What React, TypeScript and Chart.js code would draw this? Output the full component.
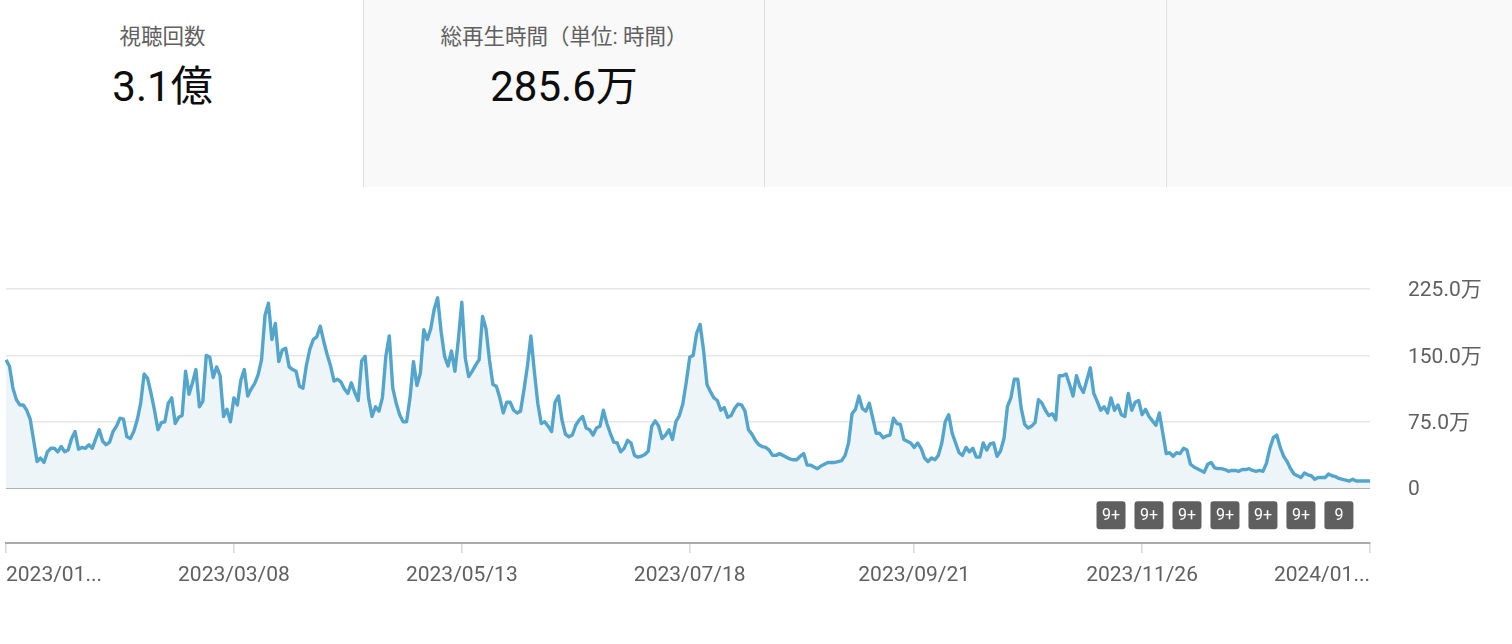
import React, { useEffect, useRef } from "react";
import { Chart, registerables } from "chart.js";

Chart.register(...registerables);

// ---- data (daily views, unit: 万) ----
const startDate = "2023-01-01";

const views: number[] = [
  145, 138, 113, 100, 94, 94, 88, 78, 54, 30,
  34, 29, 41, 45, 45, 41, 47, 41, 43, 56,
  64, 44, 46, 45, 49, 45, 56, 66, 53, 49,
  52, 64, 70, 79, 78, 58, 56, 64, 77, 96,
  129, 124, 107, 88, 66, 74, 75, 96, 102, 73,
  80, 82, 132, 106, 119, 134, 92, 98, 150, 148,
  125, 137, 127, 81, 89, 75, 102, 94, 122, 134,
  104, 112, 118, 128, 145, 195, 209, 168, 186, 143,
  156, 158, 137, 134, 132, 115, 113, 139, 157, 168,
  171, 183, 166, 151, 138, 121, 123, 120, 112, 107,
  119, 108, 99, 144, 149, 102, 81, 92, 87, 102,
  149, 172, 113, 96, 83, 75, 75, 102, 143, 116,
  130, 179, 168, 180, 202, 215, 177, 149, 138, 155,
  132, 168, 210, 147, 126, 132, 139, 145, 194, 180,
  145, 117, 115, 102, 85, 97, 97, 88, 85, 87,
  111, 138, 172, 132, 96, 73, 75, 70, 64, 97,
  104, 77, 61, 58, 60, 71, 77, 81, 68, 66,
  60, 68, 70, 88, 73, 62, 52, 51, 41, 45,
  54, 51, 37, 35, 36, 38, 42, 70, 76, 70,
  56, 60, 66, 55, 75, 82, 95, 120, 148, 150,
  175, 185, 156, 117, 109, 102, 99, 88, 91, 80,
  82, 90, 95, 94, 87, 66, 61, 54, 49, 47,
  46, 43, 37, 37, 39, 37, 35, 33, 32, 32,
  36, 39, 26, 26, 24, 22, 25, 27, 29, 29,
  29, 30, 31, 37, 51, 84, 89, 104, 90, 87,
  96, 79, 62, 62, 57, 59, 60, 79, 73, 72,
  55, 53, 51, 46, 51, 45, 34, 30, 34, 32,
  37, 51, 75, 83, 62, 51, 40, 37, 46, 41,
  45, 35, 35, 51, 43, 50, 51, 36, 42, 56,
  92, 102, 123, 123, 90, 72, 68, 70, 74, 100,
  96, 88, 82, 84, 77, 127, 127, 129, 117, 104,
  127, 115, 108, 122, 136, 107, 98, 88, 92, 85,
  102, 88, 94, 83, 81, 107, 88, 97, 99, 83,
  89, 81, 76, 71, 85, 62, 39, 40, 36, 40,
  39, 45, 43, 27, 24, 22, 20, 18, 27, 29,
  23, 22, 22, 21, 19, 20, 20, 19, 21, 21,
  22, 20, 19, 20, 19, 28, 45, 57, 60, 46,
  36, 30, 22, 16, 14, 12, 17, 15, 14, 10,
  12, 12, 12, 16, 14, 13, 11, 10, 9, 8,
  10, 8, 8, 8, 8, 8,
];

const tickDays = [0, 66, 132, 198, 263, 329, 395];
const tickLabels = [
  "2023/01...",
  "2023/03/08",
  "2023/05/13",
  "2023/07/18",
  "2023/09/21",
  "2023/11/26",
  "2024/01...",
];
const yTicks = [0, 75, 150, 225];

const badgeDays = [320, 331, 342, 353, 364, 375, 386];
const badgeLabels = ["9+", "9+", "9+", "9+", "9+", "9+", "9"];

const cardTitles = ["視聴回数", "総再生時間（単位: 時間）", "", ""];
const cardValues = ["3.1億", "285.6万", "", ""];

// ---- helpers ----
function buildDates(start: string, n: number): string[] {
  const out: string[] = [];
  const base = new Date(start + "T00:00:00Z");
  for (let i = 0; i < n; i++) {
    const d = new Date(base.getTime() + i * 86400000);
    const y = d.getUTCFullYear();
    const m = String(d.getUTCMonth() + 1).padStart(2, "0");
    const dd = String(d.getUTCDate()).padStart(2, "0");
    out.push(`${y}/${m}/${dd}`);
  }
  return out;
}

const dates = buildDates(startDate, views.length);

const FONT = 'Roboto, "Noto Sans CJK JP", sans-serif';
const LINE = "#54a5cb";
const FILL = "#edf5f9";
const TEXT_GREY = "#606060";

const badgePlugin = {
  id: "badges",
  afterDraw(chart: any) {
    const { ctx, scales } = chart;
    const x = scales.x;
    const y = scales.y;
    const y0 = y.getPixelForValue(0);
    ctx.save();
    badgeDays.forEach((d, i) => {
      const cx = x.getPixelForValue(d);
      const w = 29;
      const h = 28;
      const top = y0 + 13;
      ctx.fillStyle = "#5f5f5f";
      ctx.beginPath();
      ctx.roundRect(cx - w / 2, top, w, h, 3);
      ctx.fill();
      ctx.fillStyle = "#ffffff";
      ctx.font = `16px ${FONT}`;
      ctx.textAlign = "center";
      ctx.textBaseline = "middle";
      ctx.fillText(badgeLabels[i], cx, top + h / 2 + 1);
    });
    ctx.restore();
  },
};

function MetricCards() {
  const lefts = [-38, 363, 764, 1166];
  return (
    <>
      {lefts.map((left, i) => (
        <div
          key={i}
          style={{
            position: "absolute",
            left,
            top: 0,
            width: 401,
            height: 187,
            boxSizing: "border-box",
            background: i === 0 ? "#ffffff" : "#f9f9f9",
            borderLeft: i === 0 ? "none" : "1.5px solid #dedede",
            fontFamily: FONT,
            textAlign: "center",
          }}
        >
          {cardTitles[i] ? (
            <div
              style={{
                position: "absolute",
                left: 0,
                right: 0,
                top: 23,
                fontSize: 21.5,
                lineHeight: "28px",
                color: TEXT_GREY,
              }}
            >
              {cardTitles[i]}
            </div>
          ) : null}
          {cardValues[i] ? (
            <div
              style={{
                position: "absolute",
                left: 0,
                right: 0,
                top: 62,
                fontSize: 42,
                lineHeight: "50px",
                color: "#0d0d0d",
              }}
            >
              {cardValues[i]}
            </div>
          ) : null}
        </div>
      ))}
    </>
  );
}

export default function App() {
  const canvasRef = useRef<HTMLCanvasElement | null>(null);

  useEffect(() => {
    const canvas = canvasRef.current;
    if (!canvas) return;
    const chart = new Chart(canvas, {
      type: "line",
      data: {
        labels: dates,
        datasets: [
          {
            data: views,
            borderColor: LINE,
            backgroundColor: FILL,
            fill: "origin",
            borderWidth: 3.4,
            pointRadius: 0,
            tension: 0,
            borderJoinStyle: "round",
          },
        ],
      },
      options: {
        animation: false,
        responsive: false,
        maintainAspectRatio: false,
        layout: { padding: { left: 6, top: 29, right: 0, bottom: 0 } },
        plugins: {
          legend: { display: false },
          tooltip: { enabled: false },
        },
        scales: {
          x: {
            type: "category",
            grid: {
              drawOnChartArea: false,
              drawTicks: true,
              tickLength: 10,
              color: "#d6d6d6",
              tickColor: "#d6d6d6",
              lineWidth: 1.5,
            },
            border: { display: true, color: "#a9a9a9", width: 2 },
            ticks: {
              autoSkip: false,
              maxRotation: 0,
              minRotation: 0,
              align: "inner",
              padding: 10,
              color: TEXT_GREY,
              font: { family: FONT, size: 21 },
              callback: (_v: any, i: number) => tickLabels[i],
            },
            afterBuildTicks: (s: any) => {
              s.ticks = tickDays.map((d) => ({ value: d }));
            },
            afterFit: (s: any) => {
              s.height = 57;
              s.paddingLeft = 0;
              s.paddingRight = 0;
            },
          },
          y: {
            position: "right",
            min: -62,
            max: 225,
            afterBuildTicks: (s: any) => {
              s.ticks = yTicks.map((v) => ({ value: v }));
            },
            grid: {
              drawTicks: false,
              color: (c: any) =>
                c.tick && c.tick.value === 0 ? "#9a9a9a" : "#e6e6e6",
              lineWidth: (c: any) => (c.tick && c.tick.value === 0 ? 2 : 1.5),
            },
            border: { display: false },
            ticks: {
              padding: 38,
              labelOffset: 2,
              color: TEXT_GREY,
              font: { family: FONT, size: 21 },
              callback: (v: any) =>
                Number(v) === 0 ? "0" : Number(v).toFixed(1) + "万",
            },
            afterFit: (s: any) => {
              s.width = 142;
              s.paddingTop = 0;
              s.paddingBottom = 0;
            },
          },
        },
      },
      plugins: [badgePlugin],
    } as any);
    return () => chart.destroy();
  }, []);

  return (
    <div
      style={{
        position: "absolute",
        left: 0,
        top: 0,
        width: 1512,
        height: 644,
        overflow: "hidden",
        background: "#ffffff",
      }}
    >
      <MetricCards />
      <canvas
        ref={canvasRef}
        width={1512}
        height={340}
        style={{ position: "absolute", left: 0, top: 260, display: "block" }}
      />
    </div>
  );
}
